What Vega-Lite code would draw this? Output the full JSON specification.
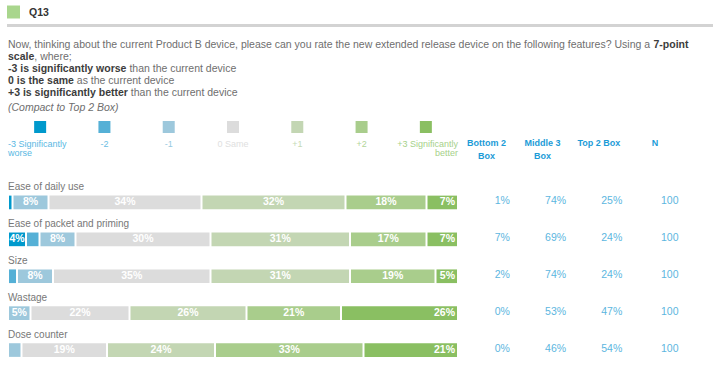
{
  "$schema": "https://vega.github.io/schema/vega-lite/v6.json",
  "width": 713,
  "height": 374,
  "padding": 0,
  "autosize": "none",
  "background": "white",
  "config": {"view": {"stroke": null}, "font": "Liberation Sans", "text": {"font": "Liberation Sans"}},
  "datasets": {
    "q": [{"label": "Q13"}],
    "question": [
      {"line": 1, "seg": "n", "text": "Now, thinking about the current Product B device, please can you rate the new extended release device on the following features?  Using a"},
      {"line": 1, "seg": "b", "text": "7-point"},
      {"line": 2, "seg": "b", "text": "scale"},
      {"line": 2, "seg": "n", "text": ", where;"},
      {"line": 3, "seg": "b", "text": "-3 is significantly worse"},
      {"line": 3, "seg": "n", "text": "than the current device"},
      {"line": 4, "seg": "b", "text": "0 is the same"},
      {"line": 4, "seg": "n", "text": "as the current device"},
      {"line": 5, "seg": "b", "text": "+3 is significantly better"},
      {"line": 5, "seg": "n", "text": "than the current device"},
      {"line": 6, "seg": "i", "text": "(Compact to Top 2 Box)"}
    ],
    "legend": [
      {"rating": -3, "l1": "-3 Significantly", "l2": "worse"},
      {"rating": -2, "l1": "-2"},
      {"rating": -1, "l1": "-1"},
      {"rating": 0, "l1": "0 Same"},
      {"rating": 1, "l1": "+1"},
      {"rating": 2, "l1": "+2"},
      {"rating": 3, "l1": "+3 Significantly", "l2": "better"}
    ],
    "bars": [
      {"item": "Ease of daily use", "rating": -3, "pct": 0.01},
      {"item": "Ease of daily use", "rating": -1, "pct": 0.08},
      {"item": "Ease of daily use", "rating": 0, "pct": 0.34},
      {"item": "Ease of daily use", "rating": 1, "pct": 0.32},
      {"item": "Ease of daily use", "rating": 2, "pct": 0.18},
      {"item": "Ease of daily use", "rating": 3, "pct": 0.07},
      {"item": "Ease of packet and priming", "rating": -3, "pct": 0.04},
      {"item": "Ease of packet and priming", "rating": -2, "pct": 0.03},
      {"item": "Ease of packet and priming", "rating": -1, "pct": 0.08},
      {"item": "Ease of packet and priming", "rating": 0, "pct": 0.30},
      {"item": "Ease of packet and priming", "rating": 1, "pct": 0.31},
      {"item": "Ease of packet and priming", "rating": 2, "pct": 0.17},
      {"item": "Ease of packet and priming", "rating": 3, "pct": 0.07},
      {"item": "Size", "rating": -2, "pct": 0.02},
      {"item": "Size", "rating": -1, "pct": 0.08},
      {"item": "Size", "rating": 0, "pct": 0.35},
      {"item": "Size", "rating": 1, "pct": 0.31},
      {"item": "Size", "rating": 2, "pct": 0.19},
      {"item": "Size", "rating": 3, "pct": 0.05},
      {"item": "Wastage", "rating": -1, "pct": 0.05},
      {"item": "Wastage", "rating": 0, "pct": 0.22},
      {"item": "Wastage", "rating": 1, "pct": 0.26},
      {"item": "Wastage", "rating": 2, "pct": 0.21},
      {"item": "Wastage", "rating": 3, "pct": 0.26},
      {"item": "Dose counter", "rating": -1, "pct": 0.03},
      {"item": "Dose counter", "rating": 0, "pct": 0.19},
      {"item": "Dose counter", "rating": 1, "pct": 0.24},
      {"item": "Dose counter", "rating": 2, "pct": 0.33},
      {"item": "Dose counter", "rating": 3, "pct": 0.21}
    ],
    "cols": [
      {"col": "Bottom 2 Box", "l1": "Bottom 2", "l2": "Box"},
      {"col": "Middle 3 Box", "l1": "Middle 3", "l2": "Box"},
      {"col": "Top 2 Box", "l1": "Top 2 Box"},
      {"col": "N", "l1": "N"}
    ],
    "table": [
      {"item": "Ease of daily use", "col": "Bottom 2 Box", "v": 0.01},
      {"item": "Ease of daily use", "col": "Middle 3 Box", "v": 0.74},
      {"item": "Ease of daily use", "col": "Top 2 Box", "v": 0.25},
      {"item": "Ease of daily use", "col": "N", "v": 100},
      {"item": "Ease of packet and priming", "col": "Bottom 2 Box", "v": 0.07},
      {"item": "Ease of packet and priming", "col": "Middle 3 Box", "v": 0.69},
      {"item": "Ease of packet and priming", "col": "Top 2 Box", "v": 0.24},
      {"item": "Ease of packet and priming", "col": "N", "v": 100},
      {"item": "Size", "col": "Bottom 2 Box", "v": 0.02},
      {"item": "Size", "col": "Middle 3 Box", "v": 0.74},
      {"item": "Size", "col": "Top 2 Box", "v": 0.24},
      {"item": "Size", "col": "N", "v": 100},
      {"item": "Wastage", "col": "Bottom 2 Box", "v": 0.0},
      {"item": "Wastage", "col": "Middle 3 Box", "v": 0.53},
      {"item": "Wastage", "col": "Top 2 Box", "v": 0.47},
      {"item": "Wastage", "col": "N", "v": 100},
      {"item": "Dose counter", "col": "Bottom 2 Box", "v": 0.0},
      {"item": "Dose counter", "col": "Middle 3 Box", "v": 0.46},
      {"item": "Dose counter", "col": "Top 2 Box", "v": 0.54},
      {"item": "Dose counter", "col": "N", "v": 100}
    ]
  },
  "layer": [
    {
      "data": {"name": "q"},
      "layer": [
        {"mark": {"type": "square", "size": 169, "color": "#a9d68d", "opacity": 1, "strokeWidth": 0}, "encoding": {"x": {"value": 13.5}, "y": {"value": 12}}},
        {"mark": {"type": "text", "align": "left", "baseline": "middle", "fontWeight": "bold", "fontSize": 10.5, "color": "#333333"}, "encoding": {"text": {"field": "label"}, "x": {"value": 29}, "y": {"value": 12.5}}},
        {"mark": {"type": "rule", "color": "#d3d3d3", "strokeWidth": 3}, "encoding": {"x": {"value": 7}, "x2": {"value": 713}, "y": {"value": 25.5}}}
      ]
    },
    {
      "data": {"name": "question"},
      "encoding": {
        "x": {"value": 8},
        "y": {"field": "line", "type": "ordinal", "scale": {"type": "point", "domain": [1, 2, 3, 4, 5, 6], "range": [45, 105], "padding": 0}, "axis": null},
        "text": {"field": "text"}
      },
      "layer": [
        {"transform": [{"filter": "datum.line == 1 && datum.seg == 'n'"}], "mark": {"type": "text", "align": "left", "baseline": "middle", "fontSize": 10.5, "color": "#6e6e6e"}},
        {"transform": [{"filter": "datum.line >= 2 && datum.seg == 'b'"}], "mark": {"type": "text", "align": "left", "baseline": "middle", "fontSize": 10.5, "fontWeight": "bold", "color": "#3c3c3c"}},
        {"transform": [{"filter": "datum.line == 1 && datum.seg == 'b'"}], "mark": {"type": "text", "align": "left", "baseline": "middle", "fontSize": 10.5, "fontWeight": "bold", "color": "#3c3c3c", "dx": 645.5}},
        {"transform": [{"filter": "datum.line == 2 && datum.seg == 'n'"}], "mark": {"type": "text", "align": "left", "baseline": "middle", "fontSize": 10.5, "color": "#6e6e6e", "dx": 26.3}},
        {"transform": [{"filter": "datum.line == 3 && datum.seg == 'n'"}], "mark": {"type": "text", "align": "left", "baseline": "middle", "fontSize": 10.5, "color": "#6e6e6e", "dx": 121.4}},
        {"transform": [{"filter": "datum.line == 4 && datum.seg == 'n'"}], "mark": {"type": "text", "align": "left", "baseline": "middle", "fontSize": 10.5, "color": "#6e6e6e", "dx": 68.8}},
        {"transform": [{"filter": "datum.line == 5 && datum.seg == 'n'"}], "mark": {"type": "text", "align": "left", "baseline": "middle", "fontSize": 10.5, "color": "#6e6e6e", "dx": 122.8}},
        {"transform": [{"filter": "datum.seg == 'i'"}], "mark": {"type": "text", "align": "left", "baseline": "middle", "fontSize": 10.5, "fontStyle": "italic", "color": "#6e6e6e", "dy": 3}}
      ]
    },
    {
      "data": {"name": "legend"},
      "encoding": {
        "x": {"field": "rating", "type": "ordinal", "scale": {"type": "band", "domain": [-3, -2, -1, 0, 1, 2, 3], "range": [8, 458], "paddingInner": 0, "paddingOuter": 0}, "axis": null}
      },
      "layer": [
        {"mark": {"type": "square", "size": 144, "opacity": 1, "strokeWidth": 0}, "encoding": {"y": {"value": 127}, "color": {"field": "rating", "type": "ordinal", "scale": {"domain": [-3, -2, -1, 0, 1, 2, 3], "range": ["#0099cc", "#55b0d6", "#9dc8dc", "#dcdcdc", "#c3d6b3", "#a9cd8c", "#8abf62"]}, "legend": null}}},
        {"transform": [{"filter": "datum.rating > -3 && datum.rating < 3"}], "mark": {"type": "text", "align": "center", "baseline": "middle", "fontSize": 9}, "encoding": {"y": {"value": 144}, "text": {"field": "l1"}, "fill": {"field": "rating", "type": "ordinal", "scale": {"domain": [-3, -2, -1, 0, 1, 2, 3], "range": ["#5ab8e3", "#6cbde3", "#98c9df", "#e0e0e0", "#c6dbb6", "#b2d598", "#a6d18a"]}, "legend": null}}},
        {"transform": [{"filter": "datum.rating == -3"}], "layer": [
          {"mark": {"type": "text", "align": "left", "baseline": "middle", "fontSize": 9}, "encoding": {"x": {"field": "rating", "type": "ordinal", "bandPosition": 0}, "y": {"value": 144}, "text": {"field": "l1"}, "fill": {"field": "rating", "type": "ordinal", "legend": null}}},
          {"mark": {"type": "text", "align": "left", "baseline": "middle", "fontSize": 9}, "encoding": {"x": {"field": "rating", "type": "ordinal", "bandPosition": 0}, "y": {"value": 153}, "text": {"field": "l2"}, "fill": {"field": "rating", "type": "ordinal", "legend": null}}}
        ]},
        {"transform": [{"filter": "datum.rating == 3"}], "layer": [
          {"mark": {"type": "text", "align": "right", "baseline": "middle", "fontSize": 9}, "encoding": {"x": {"field": "rating", "type": "ordinal", "bandPosition": 1}, "y": {"value": 144}, "text": {"field": "l1"}, "fill": {"field": "rating", "type": "ordinal", "legend": null}}},
          {"mark": {"type": "text", "align": "right", "baseline": "middle", "fontSize": 9}, "encoding": {"x": {"field": "rating", "type": "ordinal", "bandPosition": 1}, "y": {"value": 153}, "text": {"field": "l2"}, "fill": {"field": "rating", "type": "ordinal", "legend": null}}}
        ]}
      ]
    },
    {
      "layer": [
        {
          "data": {"name": "bars"},
          "transform": [{"stack": "pct", "groupby": ["item"], "sort": [{"field": "rating", "order": "ascending"}], "as": ["s0", "s1"]}],
          "layer": [
            {
              "mark": {"type": "bar", "x2Offset": -2},
              "encoding": {
                "x": {"field": "s0", "type": "quantitative", "scale": {"domain": [0, 1], "range": [9, 459], "nice": false, "zero": false}, "axis": null},
                "x2": {"field": "s1"},
                "y": {"field": "item", "type": "nominal", "scale": {"type": "band", "domain": ["Ease of daily use", "Ease of packet and priming", "Size", "Wastage", "Dose counter"], "range": [184, 368.5], "paddingInner": 0.63, "paddingOuter": 0.315}, "axis": null},
                "color": {"field": "rating", "type": "ordinal", "legend": null}
              }
            },
            {
              "transform": [
                {"filter": "datum.pct >= 0.04 && datum.rating < 3"},
                {"fold": ["s0", "s1"], "as": ["edge", "pos"]},
                {"aggregate": [{"op": "mean", "field": "pos", "as": "mid"}], "groupby": ["item", "rating", "pct"]}
              ],
              "mark": {"type": "text", "align": "center", "baseline": "middle", "fontSize": 10.5, "fontWeight": "bold", "color": "white", "dx": -1},
              "encoding": {
                "x": {"field": "mid", "type": "quantitative"},
                "y": {"field": "item", "type": "nominal"},
                "text": {"field": "pct", "type": "quantitative", "format": ".0%"}
              }
            },
            {
              "transform": [{"filter": "datum.pct >= 0.04 && datum.rating == 3"}],
              "mark": {"type": "text", "align": "right", "baseline": "middle", "fontSize": 10.5, "fontWeight": "bold", "color": "white", "dx": -4},
              "encoding": {
                "x": {"field": "s1", "type": "quantitative"},
                "y": {"field": "item", "type": "nominal"},
                "text": {"field": "pct", "type": "quantitative", "format": ".0%"}
              }
            },
            {
              "transform": [{"filter": "datum.rating == 0"}],
              "mark": {"type": "text", "align": "left", "baseline": "middle", "fontSize": 10, "color": "#777777", "dx": -1, "dy": -15},
              "encoding": {
                "x": {"datum": 0, "type": "quantitative"},
                "y": {"field": "item", "type": "nominal"},
                "text": {"field": "item"}
              }
            }
          ]
        },
        {
          "encoding": {
            "x": {"field": "col", "type": "nominal", "scale": {"type": "band", "domain": ["Bottom 2 Box", "Middle 3 Box", "Top 2 Box", "N"], "range": [458.3, 683.1], "paddingInner": 0, "paddingOuter": 0}, "axis": null}
          },
          "layer": [
            {
              "data": {"name": "table"},
              "transform": [{"filter": "datum.col != 'N'"}],
              "mark": {"type": "text", "align": "right", "baseline": "middle", "fontSize": 10.5, "color": "#5cb6e0", "dx": 23.5, "dy": -1.5},
              "encoding": {"y": {"field": "item", "type": "nominal"}, "text": {"field": "v", "type": "quantitative", "format": ".0%"}}
            },
            {
              "data": {"name": "table"},
              "transform": [{"filter": "datum.col == 'N'"}],
              "mark": {"type": "text", "align": "right", "baseline": "middle", "fontSize": 10.5, "color": "#5cb6e0", "dx": 23.5, "dy": -1.5},
              "encoding": {"y": {"field": "item", "type": "nominal"}, "text": {"field": "v", "type": "quantitative", "format": "d"}}
            },
            {
              "data": {"name": "cols"},
              "mark": {"type": "text", "align": "center", "baseline": "middle", "fontSize": 9, "fontWeight": "bold", "color": "#1c9bd7"},
              "encoding": {"y": {"value": 143}, "text": {"field": "l1"}}
            },
            {
              "data": {"name": "cols"},
              "transform": [{"filter": "isValid(datum.l2)"}],
              "mark": {"type": "text", "align": "center", "baseline": "middle", "fontSize": 9, "fontWeight": "bold", "color": "#1c9bd7"},
              "encoding": {"y": {"value": 156}, "text": {"field": "l2"}}
            }
          ]
        }
      ],
      "resolve": {"scale": {"x": "independent"}}
    }
  ],
  "resolve": {"scale": {"x": "independent", "y": "independent"}}
}
